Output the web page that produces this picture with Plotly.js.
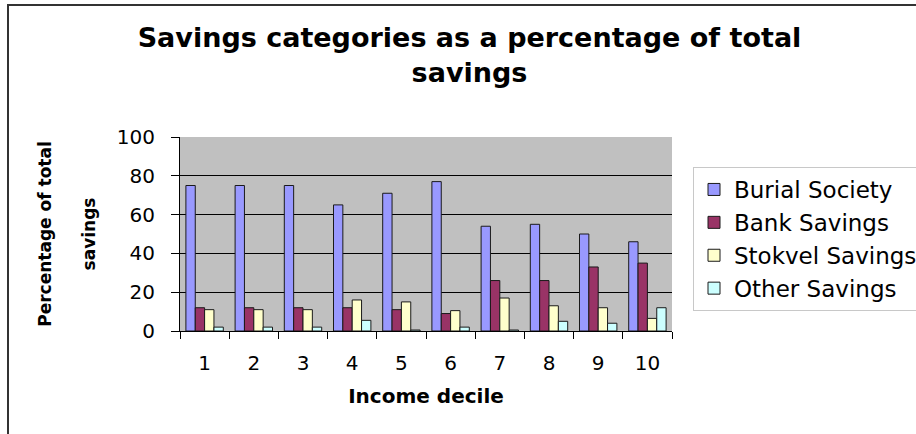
<!DOCTYPE html>
<html>
<head>
<meta charset="utf-8">
<script src="https://cdn.plot.ly/plotly-3.0.1.min.js"></script>
<style>
  html, body { margin: 0; padding: 0; background: #ffffff; overflow: hidden; }
  #chart { width: 916px; height: 434px; }
</style>
</head>
<body>
<div id="chart"></div>
<script>
// Data
var deciles = ["1", "2", "3", "4", "5", "6", "7", "8", "9", "10"];
var burialSociety = [75, 75, 75, 65, 71, 77, 54, 55, 50, 46];
var bankSavings = [12, 12, 12, 12, 11, 9, 26, 26, 33, 35];
var stokvelSavings = [11, 11, 11, 16, 15, 10.5, 17, 13, 12, 6.5];
var otherSavings = [2, 2, 2, 5.5, 0.5, 2, 0.5, 5, 4, 12];
var seriesNames = ["Burial Society", "Bank Savings", "Stokvel Savings", "Other Savings"];
var yTicks = [0, 20, 40, 60, 80, 100];

var seriesValues = [burialSociety, bankSavings, stokvelSavings, otherSavings];
var seriesColors = ["#9999FF", "#993366", "#FFFFCC", "#CCFFFF"];

var traces = seriesValues.map(function (vals, i) {
  return {
    type: "bar",
    name: seriesNames[i],
    x: deciles,
    y: vals,
    marker: { color: seriesColors[i], line: { color: "#1a1a1a", width: 1 } },
    hoverinfo: "x+y+name"
  };
});

var W = 916, H = 434;
var L = 180, R = 244, T = 137, B = 103;
var pw = W - L - R, ph = H - T - B;

var layout = {
  width: W,
  height: H,
  autosize: false,
  margin: { l: L, r: R, t: T, b: B, pad: 0, autoexpand: false },
  paper_bgcolor: "#ffffff",
  plot_bgcolor: "#C0C0C0",
  font: { family: "DejaVu Sans, Arial, sans-serif", color: "#000000", size: 20 },
  barmode: "group",
  bargap: 0.24,
  bargroupgap: 0,
  title: {
    text: "Savings categories as a percentage of total<br>savings",
    font: { family: "DejaVu Sans, Arial, sans-serif", size: 27, color: "#000000", weight: "bold" },
    xref: "container",
    x: 469.5 / W,
    xanchor: "center",
    yref: "container",
    y: 1 - 47 / H,
    yanchor: "top"
  },
  xaxis: {
    type: "category",
    tickson: "boundaries",
    ticks: "outside",
    ticklen: 7,
    tickcolor: "#000000",
    tickwidth: 1,
    ticklabelstandoff: 14,
    showline: true,
    linecolor: "#000000",
    linewidth: 1,
    showgrid: false,
    zeroline: false,
    automargin: false,
    tickfont: { size: 20, color: "#000000" },
    title: {
      text: "Income decile",
      font: { family: "DejaVu Sans, Arial, sans-serif", size: 20, color: "#000000", weight: "bold" },
      standoff: 14
    }
  },
  yaxis: {
    range: [0, 100],
    tickvals: yTicks,
    ticktext: yTicks.map(String),
    ticks: "outside",
    ticklen: 8,
    tickcolor: "#000000",
    tickwidth: 1,
    ticklabelstandoff: 12,
    showline: true,
    linecolor: "#000000",
    linewidth: 1,
    showgrid: true,
    gridcolor: "#000000",
    gridwidth: 1.3,
    zeroline: false,
    automargin: false,
    tickfont: { size: 20, color: "#000000" },
    title: {
      text: "Percentage of total<br> <br>savings",
      font: { family: "DejaVu Sans, Arial, sans-serif", size: 17, color: "#000000", weight: "bold" },
      standoff: 16
    }
  },
  legend: {
    x: (693 - L) / pw,
    xanchor: "left",
    y: (H - B - 167) / ph,
    yanchor: "top",
    bgcolor: "#ffffff",
    bordercolor: "#c8c8c8",
    borderwidth: 1,
    font: { family: "DejaVu Sans, Arial, sans-serif", size: 23, color: "#000000" },
    traceorder: "normal"
  },
  showlegend: true,
  shapes: [
    {
      type: "rect",
      xref: "paper", yref: "paper",
      x0: (8 - L) / pw, x1: (W + 20 - L) / pw,
      y0: -(B + 20) / ph, y1: 1 + (T - 5) / ph,
      line: { color: "#333333", width: 2 },
      fillcolor: "rgba(0,0,0,0)",
      layer: "below"
    }
  ]
};

Plotly.newPlot("chart", traces, layout, { displayModeBar: false, staticPlot: true });
</script>
</body>
</html>
